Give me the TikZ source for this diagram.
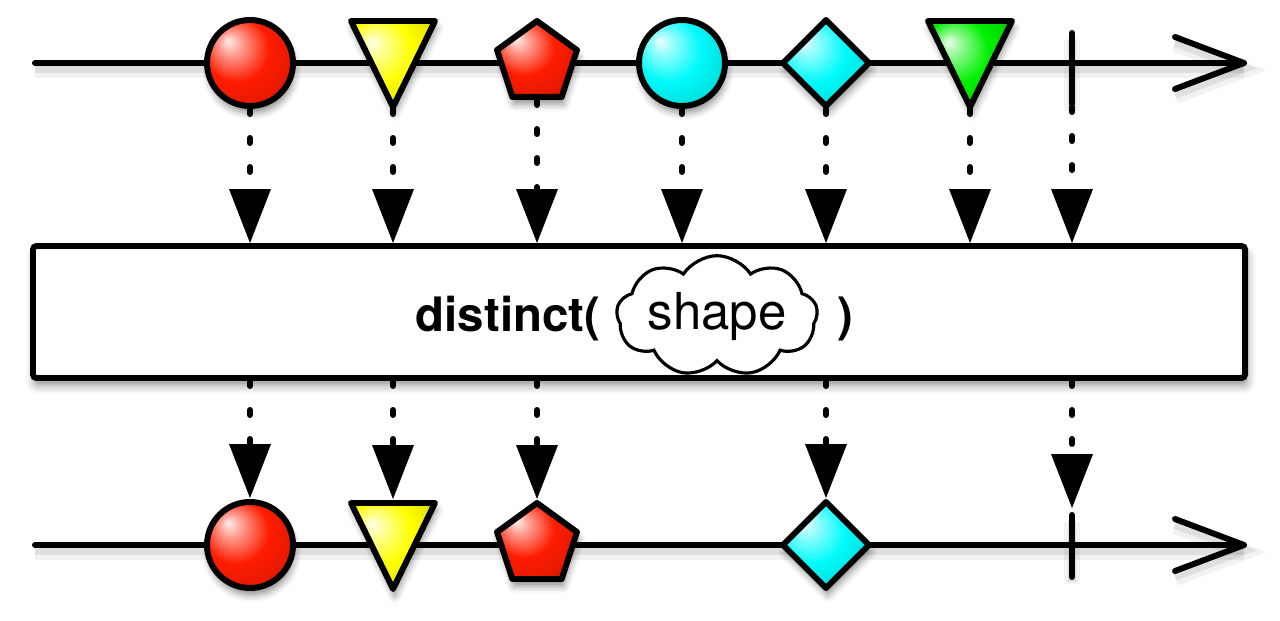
\documentclass[tikz,border=0pt]{standalone}
\usepackage{fontspec}
\setmainfont{TeX Gyre Heros}
\usepackage{tikz}
\usetikzlibrary{calc, arrows.meta, shapes.symbols, shadows.blur}
\usepackage{tkz-euclide}
\usepackage{xcolor}

\definecolor{marblered}{RGB}{255,28,0}
\definecolor{marbleyellow}{RGB}{255,255,0}
\definecolor{marblecyan}{RGB}{0,250,250}
\definecolor{marblegreen}{RGB}{0,240,0}
\colorlet{marble}{marblered}
\pgfdeclareradialshading[marble]{marbleshade}{\pgfpoint{-13bp}{13bp}}{color(0bp)=(marble!8!white);
    color(7bp)=(marble!45!white); color(19bp)=(marble); color(30bp)=(marble!90!black);
    color(42bp)=(marble!68!black); color(50bp)=(marble!50!black)}

\begin{document}
\begin{tikzpicture}[x = 0.02cm, y = 0.02cm,
        font = \fontsize{27}{32}\selectfont,
        timeline/.style = {line width = 3.4pt, line cap = round, line join = round,
            preaction = {draw, line width = 9pt, black, opacity = 0.05, transform canvas = {yshift = -4pt}},
            preaction = {draw, line width = 5pt, black, opacity = 0.08, transform canvas = {yshift = -3pt}}},
        marble/.style = {draw, line width = 3.4pt, line join = round,
            /utils/exec = {\colorlet{marble}{#1}}, shading = marbleshade,
            blur shadow = {shadow xshift = 1pt, shadow yshift = -4pt, shadow blur radius = 4pt, shadow opacity = 45}},
        flow/.style = {line width = 3.4pt, line cap = round, dash pattern = on 0.1cm off 0.48cm,
            -{Triangle[width = 0.84cm, length = 1.08cm, line width = 0pt]}},
        opbox/.style = {draw, fill = white, line width = 3.4pt, rounded corners = 2pt,
            blur shadow = {shadow xshift = 1pt, shadow yshift = -4pt, shadow blur radius = 5pt, shadow opacity = 45}}]
            \useasboundingbox (0,0) rectangle (1280,620);
            % source and result timelines
            \tkzDefPoints{35/557/L1, 1244/557/R1, 1175/583/U1, 1175/531/D1,
                          35/75/L2, 1244/75/R2, 1175/101/U2, 1175/49/D2}
            % marbles of the source
            \tkzDefPoints{250/557/A, 393/557/B, 537/557/C, 682/557/D, 826/557/E, 970/557/F,
                          1072/587/T, 1072/516/T'}
            % marbles of the result
            \tkzDefPoints{250/75/A', 393/75/B', 537/75/C', 826/75/E',
                          1072/105/S, 1072/43/S'}
            % operator box
            \tkzDefPoints{33/374/K1, 1245/242/K2}
            % connector ends
            \tkzDefPoints{250/511/a1, 393/511/b1, 537/520/c1, 682/511/d1, 826/511/e1, 970/511/f1, 1072/513/t1,
                          250/377/a2, 393/377/b2, 537/377/c2, 682/377/d2, 826/377/e2, 970/377/f2, 1072/377/t2,
                          250/239/a3, 393/239/b3, 537/239/c3, 826/239/e3, 1072/239/t3,
                          250/122/a4, 393/121/b4, 537/121/c4, 826/122/e4, 1072/112/t4}
            \draw[timeline] (L1) -- (R1);
            \draw[timeline] (U1) -- (R1) -- (D1);
            \draw[timeline] (L2) -- (R2);
            \draw[timeline] (U2) -- (R2) -- (D2);
            \draw[opbox] (K1) rectangle (K2);
            \node[anchor = base, inner sep = 0pt] (op) at (508,289) {\textbf{distinct(}};
            \node[cloud, draw, line width = 1.8pt, cloud puffs = 9, cloud puff arc = 115, aspect = 2.2,
                  inner sep = 0pt, minimum width = 3.6cm, minimum height = 1.85cm,
                  font = \fontsize{29}{34}\selectfont] (arg) at (717,304) {shape};
            \node[anchor = base, inner sep = 0pt] (cl) at (845,289) {\textbf{)}};
            \tkzDrawSegments[flow](a1,a2 b1,b2 c1,c2 d1,d2 e1,e2 f1,f2 t1,t2)
            \tkzDrawSegments[flow](a3,a4 b3,b4 c3,c4 e3,e4 t3,t4)
            \draw[marble = marblered] (A) circle[radius = 43];
            \draw[marble = marbleyellow, shift = {(B)}] (-42,42) -- (42,42) -- (0,-44) -- cycle;
            \draw[marble = marblered, shift = {(C)}] (90:42) -- (162:42) -- (234:42) -- (306:42) -- (18:42) -- cycle;
            \draw[marble = marblecyan] (D) circle[radius = 43];
            \draw[marble = marblecyan, shift = {(E)}] (0,43) -- (43,0) -- (0,-43) -- (-43,0) -- cycle;
            \draw[marble = marblegreen, shift = {(F)}] (-42,42) -- (42,42) -- (0,-44) -- cycle;
            \draw[timeline] (T) -- (T');
            \draw[marble = marblered] (A') circle[radius = 43];
            \draw[marble = marbleyellow, shift = {(B')}] (-42,42) -- (42,42) -- (0,-44) -- cycle;
            \draw[marble = marblered, shift = {(C')}] (90:42) -- (162:42) -- (234:42) -- (306:42) -- (18:42) -- cycle;
            \draw[marble = marblecyan, shift = {(E')}] (0,43) -- (43,0) -- (0,-43) -- (-43,0) -- cycle;
            \draw[timeline] (S) -- (S');
        \end{tikzpicture}
\end{document}
